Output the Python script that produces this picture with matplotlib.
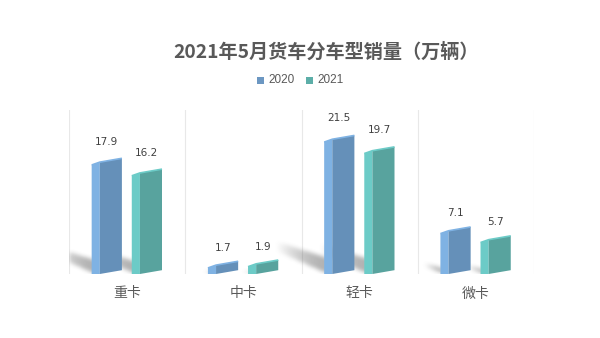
import numpy as np
import matplotlib
matplotlib.use("Agg")
import matplotlib.pyplot as plt
from matplotlib.patches import Polygon, Rectangle
from matplotlib.path import Path

plt.rcParams['font.family'] = ['Noto Sans CJK SC', 'DejaVu Sans']

title = "2021年5月货车分车型销量（万辆）"
categories = ["重卡", "中卡", "轻卡", "微卡"]
series_names = ["2020", "2021"]
values_2020 = [17.9, 1.7, 21.5, 7.1]
values_2021 = [16.2, 1.9, 19.7, 5.7]

side_colors = ["#7fb2e3", "#6ccbc7"]
front_colors = ["#6590b9", "#58a39e"]
legend_colors = ["#6c97c2", "#5caea8"]

W, H = 600, 338
fig = plt.figure(figsize=(W / 100, H / 100), dpi=100)
ax_l, ax_r, ax_b, ax_t = 69, 534, 274, 110
ax = fig.add_axes([ax_l / W, (H - ax_b) / H, (ax_r - ax_l) / W, (ax_b - ax_t) / H])
YMAX = 25.8
ax.set_xlim(0, len(categories))
ax.set_ylim(0, YMAX)
for s in ax.spines.values():
    s.set_visible(False)
ax.set_yticks([])
ax.set_xticks(np.arange(len(categories)) + 0.5)
ax.set_xticklabels(categories, fontsize=10, color="#595959")
ax.set_xticks(np.arange(len(categories) + 1), minor=True)
ax.tick_params(axis='x', which='both', length=0, pad=9)
ax.grid(axis='x', which='minor', color="#e8e8e8", linewidth=0.8, zorder=0)
ax.set_axisbelow(True)

px_x = (ax_r - ax_l) / len(categories)
px_y = (ax_b - ax_t) / YMAX

offsets = [-0.175, 0.17]
bw = 0.26
side_w = 0.07
d = 0.3

series = [values_2020, values_2021]

# soft floor shadows derived from bar heights
Wp, Hp = ax_r - ax_l, ax_b - ax_t
gx, gy = np.meshgrid(np.arange(Wp) + 0.5, np.arange(Hp) + 0.5)
pts = np.column_stack([gx.ravel(), gy.ravel()])
trans = np.ones(gx.shape)
for j, vals in enumerate(series):
    for i, h in enumerate(vals):
        c = i + 0.5 + offsets[j]
        x0 = (c - bw / 2) * px_x
        hp = h * px_y
        L = 0.35 * hp
        base = min(16, 0.12 * hp)
        poly = Path([(x0 + 4, 0), (x0 + 4, base), (x0 - L, base + 0.12 * hp),
                     (x0 - L, 0.17 * hp), (x0 + 4, 0)])
        inside = poly.contains_points(pts).reshape(gx.shape)
        t = np.clip((x0 - gx) / L, 0, 1)
        a = 0.5 * (1 - t ** 1.6) * inside
        trans *= (1 - a)
alpha = 1 - trans


def blur(img, r):
    k = np.ones(2 * r + 1) / (2 * r + 1)
    img = np.apply_along_axis(lambda m: np.convolve(m, k, mode='same'), 0, img)
    img = np.apply_along_axis(lambda m: np.convolve(m, k, mode='same'), 1, img)
    return img


alpha = blur(blur(alpha, 2), 2)
rgba = np.zeros(gx.shape + (4,))
rgba[..., :3] = 0.4
rgba[..., 3] = alpha
ax.imshow(rgba, extent=(0, len(categories), 0, YMAX), origin='lower',
          aspect='auto', zorder=1, interpolation='bilinear')

for j, vals in enumerate(series):
    for i, h in enumerate(vals):
        c = i + 0.5 + offsets[j]
        x0 = c - bw / 2
        xs = x0 + side_w
        x1 = x0 + bw
        side = Polygon([(x0, 0), (xs, 0), (xs, h - d), (x0, h - 2.5 * d)],
                       closed=True, facecolor=side_colors[j], edgecolor='none', zorder=3)
        front = Polygon([(xs, 0), (x1, 2 * d), (x1, h + d), (xs, h - d)],
                        closed=True, facecolor=front_colors[j], edgecolor='none', zorder=3)
        ax.add_patch(side)
        ax.add_patch(front)
        ax.plot([x0, xs, x1], [h - 2.5 * d, h - d, h + d], color=side_colors[j],
                lw=1.2, zorder=4, solid_capstyle='butt')
        ax.annotate(f"{h:.1f}", (c, h), xytext=(0, (14.8 + 0.21 * h) / 1.389),
                    textcoords='offset points', ha='center', va='center',
                    fontsize=7.5, color="#404040", family=['DejaVu Sans'], zorder=5)

fig.text(326 / W, 1 - 52 / H, title, ha='center', va='center', fontsize=13.8,
         fontweight='bold', color="#595959")

leg_y = 80
for j, (name, x_sq) in enumerate(zip(series_names, [257, 306])):
    fig.add_artist(Rectangle((x_sq / W, 1 - (leg_y + 3.5) / H), 7 / W, 7 / H,
                             transform=fig.transFigure, facecolor=legend_colors[j],
                             edgecolor='none'))
    fig.text((x_sq + 11) / W, 1 - leg_y / H, name, ha='left', va='center',
             fontsize=8.5, color="#595959", family=['Liberation Sans'])

fig.savefig("out.png", dpi=100, facecolor='white')
